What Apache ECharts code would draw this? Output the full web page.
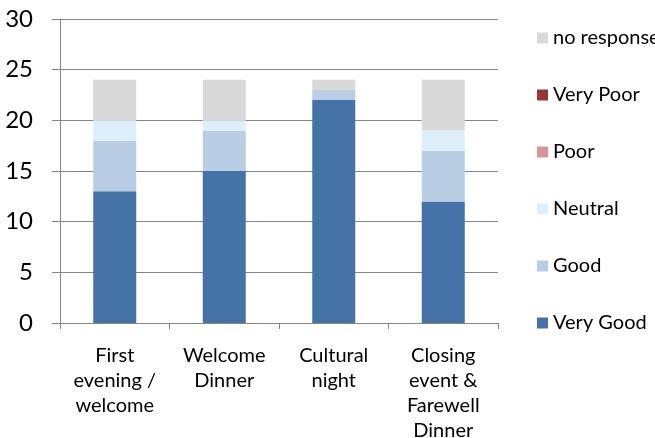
<!DOCTYPE html>
<html>
<head>
<meta charset="utf-8">
<script src="https://cdn.jsdelivr.net/npm/echarts@6/dist/echarts.min.js"></script>
<style>html,body{margin:0;padding:0;background:#fff;}#c{width:655px;height:438px;}</style>
</head>
<body>
<div id="c"></div>
<script>
const categories = ['First\nevening /\nwelcome', 'Welcome\nDinner', 'Cultural\nnight', 'Closing\nevent &\nFarewell\nDinner'];
const seriesNames = ['Very Good', 'Good', 'Neutral', 'Poor', 'Very Poor', 'no response'];
const veryGood = [13, 15, 22, 12];
const good = [5, 4, 1, 5];
const neutral = [2, 1, 0, 2];
const poor = [0, 0, 0, 0];
const veryPoor = [0, 0, 0, 0];
const noResponse = [4, 4, 1, 5];
const yTicks = [0, 5, 10, 15, 20, 25, 30];

const values = [veryGood, good, neutral, poor, veryPoor, noResponse];
const colors = ['#4572A7', '#B9CDE5', '#DEEFFC', '#D99795', '#953735', '#D9D9D9'];
const font = 'Lato, "Open Sans", sans-serif';

const chart = echarts.init(document.getElementById('c'));
chart.setOption({
  animation: false,
  backgroundColor: '#fff',
  grid: { left: 60, right: 157, top: 19, bottom: 115, containLabel: false, outerBoundsMode: 'none' },
  legend: {
    orient: 'vertical',
    left: 532,
    top: 23,
    itemWidth: 11,
    itemHeight: 11,
    itemGap: 37,
    icon: 'rect',
    data: seriesNames.slice().reverse(),
    textStyle: { fontFamily: font, fontSize: 20, color: '#000', lineHeight: 20 },
    formatter: n => n
  },
  xAxis: {
    type: 'category',
    data: categories,
    axisLine: { lineStyle: { color: '#868686', width: 1 } },
    axisTick: { show: true, length: 6, lineStyle: { color: '#868686' } },
    axisLabel: { fontFamily: font, fontSize: 20, color: '#000', lineHeight: 25, margin: 20, interval: 0 }
  },
  yAxis: {
    type: 'value',
    min: yTicks[0],
    max: yTicks[yTicks.length - 1],
    interval: 5,
    axisLine: { show: true, lineStyle: { color: '#868686', width: 1 } },
    axisTick: { show: true, length: 8, inside: false, lineStyle: { color: '#868686' } },
    splitLine: { show: true, lineStyle: { color: '#868686', width: 1 } },
    axisLabel: { fontFamily: font, fontSize: 24, color: '#000', margin: 27 }
  },
  series: seriesNames.map((name, i) => ({
    name: name,
    type: 'bar',
    stack: 'total',
    barWidth: 43,
    data: values[i],
    itemStyle: { color: colors[i] }
  }))
});
</script>
</body>
</html>
